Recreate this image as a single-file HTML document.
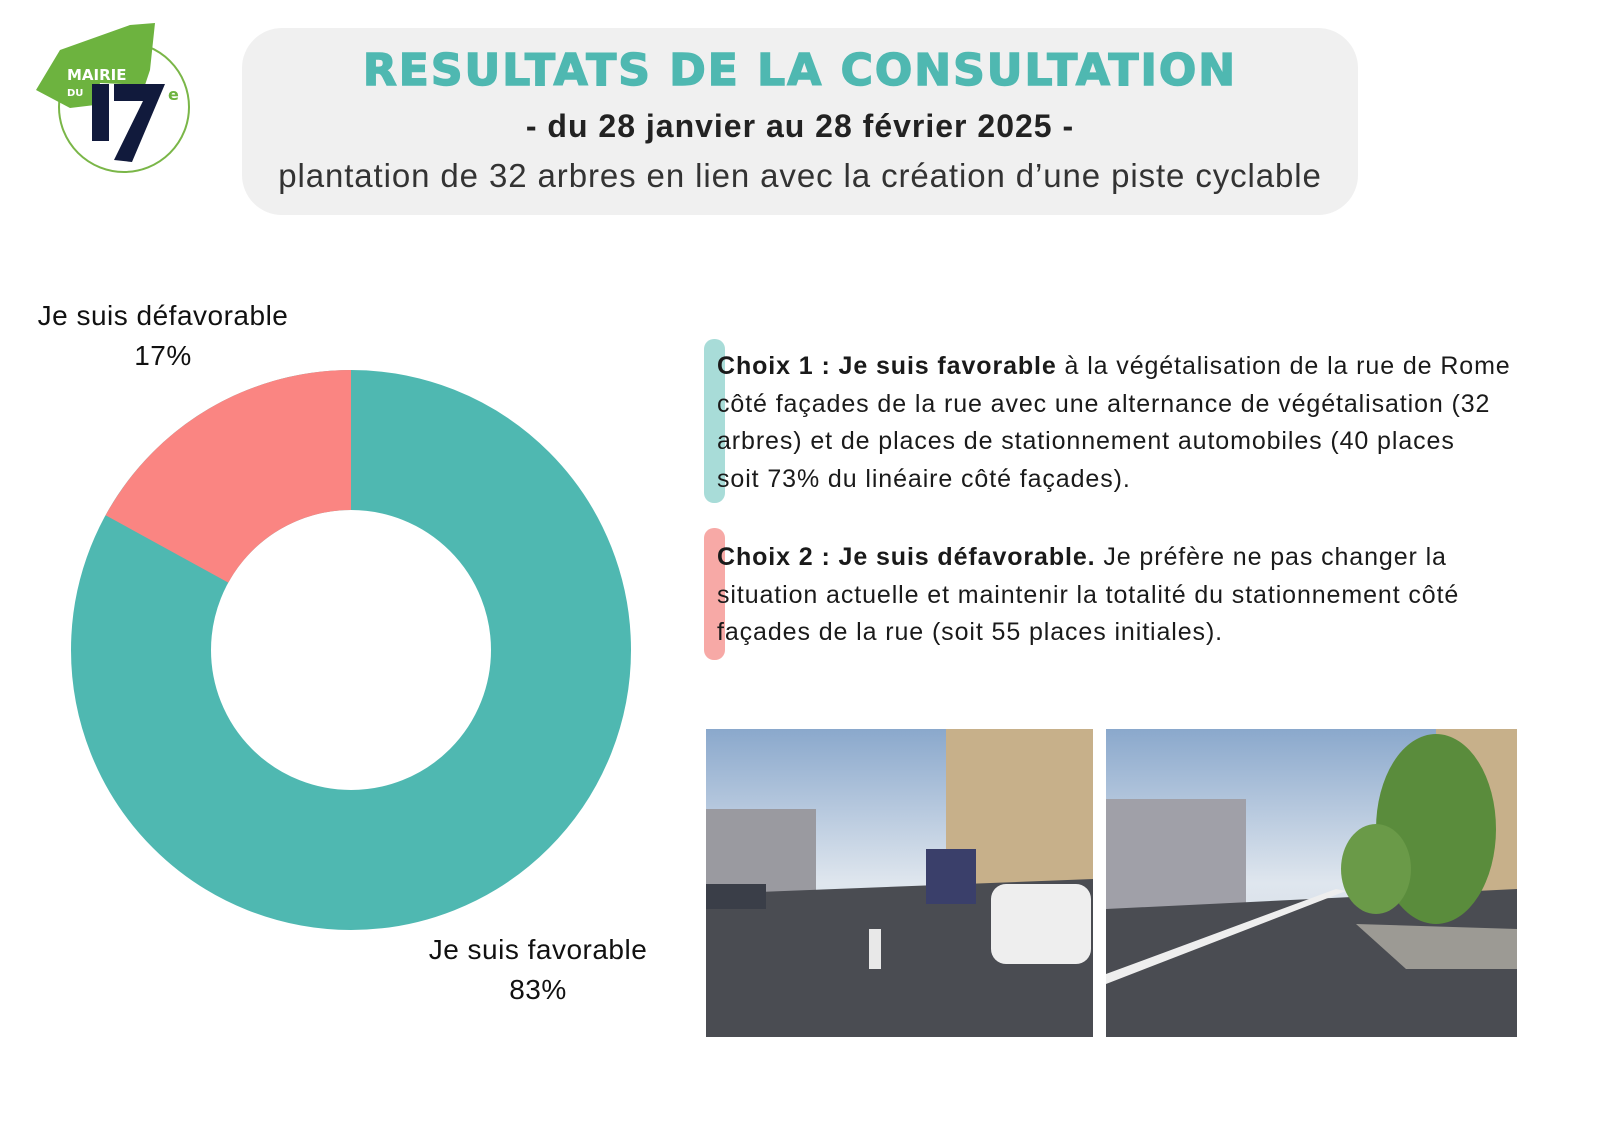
<!DOCTYPE html>
<html><head><meta charset="utf-8"><style>
body{margin:0;width:1600px;height:1129px;background:#fff;position:relative;overflow:hidden;font-family:"Liberation Sans",sans-serif}
.a{position:absolute;white-space:nowrap}
.box{position:absolute;left:242px;top:28px;width:1116px;height:187px;background:#f0f0f0;border-radius:40px}
.t{font-family:"DejaVu Sans","Liberation Sans",sans-serif;font-weight:bold;color:#4fb8b1;font-size:44px;letter-spacing:2px;left:242px;width:1116px;text-align:center;top:45px;-webkit-text-stroke:1.5px #4fb8b1}
.s{font-weight:bold;font-size:32px;letter-spacing:1px;color:#222;left:242px;width:1116px;text-align:center;top:108px}
.p{font-size:33px;letter-spacing:0.9px;color:#333;left:242px;width:1116px;text-align:center;top:157px}
.lbl{font-size:28px;letter-spacing:0.5px;color:#111;text-align:center;width:300px;line-height:40px}
.tx{font-size:25px;letter-spacing:0.9px;color:#1a1a1a;left:717px;line-height:37.5px}
</style></head><body>
<svg class="a" style="left:0;top:0" width="200" height="200">
<circle cx="124" cy="107" r="65" fill="none" stroke="#7ab648" stroke-width="2"/>
<polygon points="60,50 130,25 155,23 150,70 145,85 100,83 95,105 70,108 36,90" fill="#6db33f"/>
<text x="67" y="80" font-family="DejaVu Sans" font-weight="bold" font-size="15" fill="#fff">MAIRIE</text>
<text x="67" y="96" font-family="DejaVu Sans" font-weight="bold" font-size="10" fill="#fff">DU</text>
<rect x="92" y="84" width="17" height="57" fill="#111a3c"/>
<polygon points="114,84 165,84 132,162 114,160 143,101 114,101" fill="#111a3c"/>
<text x="168" y="100" font-family="DejaVu Sans" font-weight="bold" font-size="16" fill="#6db33f">e</text>
</svg>
<div class="box"></div>
<div class="a t">RESULTATS DE LA CONSULTATION</div>
<div class="a s">- du 28 janvier au 28 février 2025 -</div>
<div class="a p">plantation de 32 arbres en lien avec la création d’une piste cyclable</div>
<svg class="a" style="left:0;top:0" width="700" height="1129">
<circle cx="351" cy="650" r="210" fill="none" stroke="#4fb8b1" stroke-width="140"/>
<path d="M351,370 A280,280 0 0 0 105.6,515.2 L228.3,582.6 A140,140 0 0 1 351,510 Z" fill="#fa8582"/>
</svg>
<div class="a lbl" style="left:13px;top:296px">Je suis défavorable<br>17%</div>
<div class="a lbl" style="left:388px;top:930px">Je suis favorable<br>83%</div>
<div class="a" style="left:704px;top:339px;width:21px;height:164px;border-radius:10px;background:#a8dcd8"></div>
<div class="a" style="left:704px;top:528px;width:21px;height:132px;border-radius:10px;background:#f7a9a6"></div>
<div class="a tx" style="top:348px"><b>Choix 1 : Je suis favorable</b> à la végétalisation de la rue de Rome<br>côté façades de la rue avec une alternance de végétalisation (32<br>arbres) et de places de stationnement automobiles (40 places<br>soit 73% du linéaire côté façades).</div>
<div class="a tx" style="top:539px"><b>Choix 2 : Je suis défavorable.</b> Je préfère ne pas changer la<br>situation actuelle et maintenir la totalité du stationnement côté<br>façades de la rue (soit 55 places initiales).</div>
<svg class="a" style="left:706px;top:729px" width="387" height="308">
<defs><linearGradient id="sk" x1="0" y1="0" x2="0" y2="1"><stop offset="0" stop-color="#8aa8cc"/><stop offset=".5" stop-color="#dfe6ee"/><stop offset="1" stop-color="#c9d3de"/></linearGradient></defs>
<rect width="387" height="308" fill="url(#sk)"/>
<rect y="80" width="110" height="90" fill="#9a9aa0"/>
<polygon points="240,0 387,0 387,230 240,170" fill="#c7b08a"/>
<polygon points="0,165 387,150 387,308 0,308" fill="#4a4c52"/>
<rect x="0" y="155" width="60" height="25" fill="#3a3e48"/>
<rect x="220" y="120" width="50" height="55" fill="#3a3f6a"/>
<rect x="285" y="155" width="100" height="80" rx="15" fill="#eeeeee"/>
<rect x="163" y="200" width="12" height="40" fill="#e8e8e8"/>
</svg>
<svg class="a" style="left:1106px;top:729px" width="411" height="308">
<defs><linearGradient id="sk2" x1="0" y1="0" x2="0" y2="1"><stop offset="0" stop-color="#8aa8cc"/><stop offset=".5" stop-color="#dfe6ee"/><stop offset="1" stop-color="#c9d3de"/></linearGradient></defs>
<rect width="411" height="308" fill="url(#sk2)"/>
<rect y="70" width="140" height="115" fill="#a0a0a8"/>
<polygon points="330,0 411,0 411,220 330,180" fill="#c7b08a"/>
<polygon points="0,180 411,160 411,308 0,308" fill="#4a4c52"/>
<polygon points="0,245 230,160 240,162 0,255" fill="#eee"/>
<ellipse cx="330" cy="100" rx="60" ry="95" fill="#5a8c3c"/>
<ellipse cx="270" cy="140" rx="35" ry="45" fill="#6a9a48"/>
<polygon points="250,195 411,200 411,240 300,240" fill="#9c9a94"/>
</svg>
</body></html>
